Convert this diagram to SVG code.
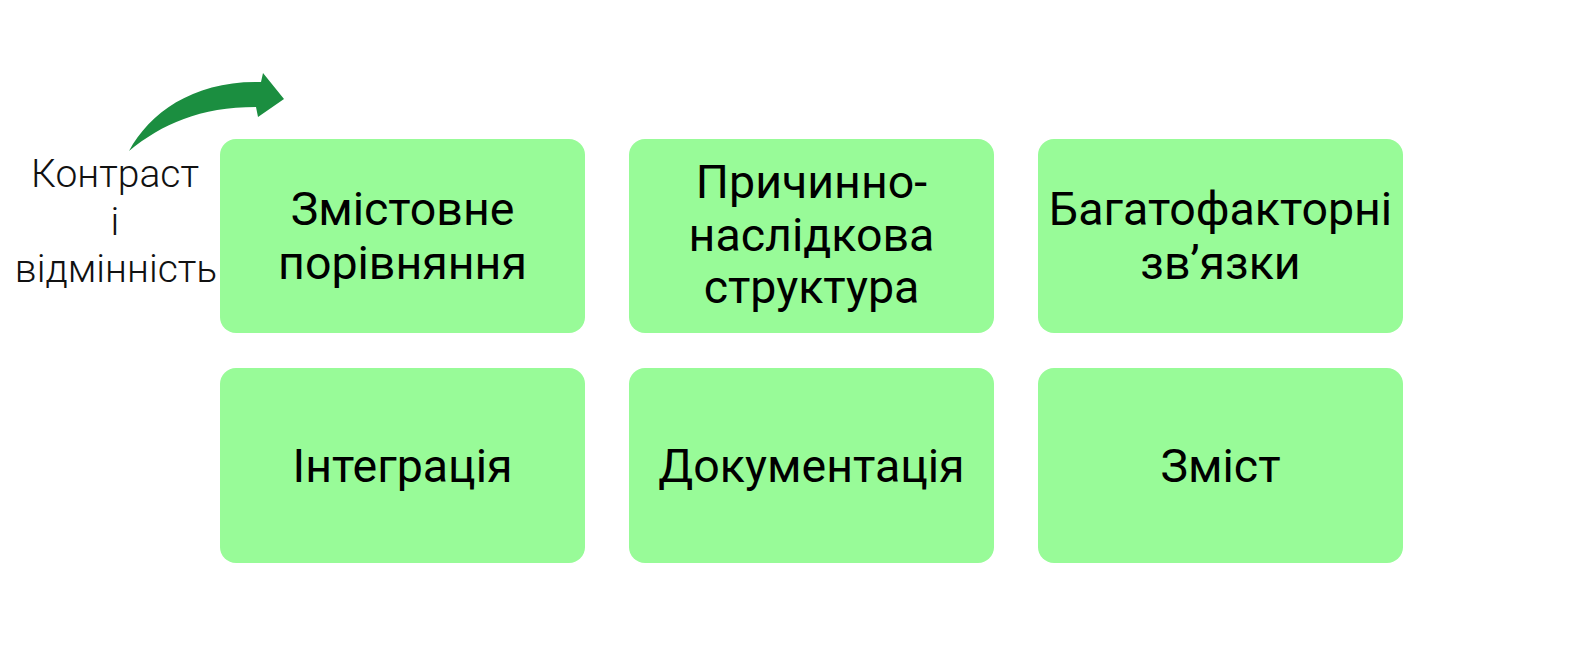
<svg xmlns="http://www.w3.org/2000/svg" width="1588" height="672" viewBox="0 0 1588 672">
<style>
.box{fill:#98fb98;}
.lbl{font-family:Roboto,"Liberation Sans",sans-serif;font-size:46.5px;fill:#000;text-anchor:middle;}
.side{font-family:Roboto,"Liberation Sans",sans-serif;font-weight:300;font-size:39px;fill:#111;text-anchor:middle;}
</style>
<rect width="1588" height="672" fill="#ffffff"/>
<g id="connectors">
<path id="arrow" d="M129,151 C150,112 195,80 261,82 L263,73 L284,99 L258,117 L256,107 C200,107 162,124 129,151 Z" fill="#1b8e40"/>
</g>
<g id="side-label">
<text class="side" x="115" y="187">Контраст</text>
<text class="side" x="115" y="235">і</text>
<text class="side" x="116" y="282">відмінність</text>
</g>
<g id="node1">
<rect class="box" x="220" y="139" width="365" height="194" rx="16"/>
<text class="lbl" x="402.5" y="225">Змістовне</text>
<text class="lbl" x="402.5" y="279">порівняння</text>
</g>
<g id="node2">
<rect class="box" x="629" y="139" width="365" height="194" rx="16"/>
<text class="lbl" x="811.5" y="198">Причинно-</text>
<text class="lbl" x="811.5" y="251">наслідкова</text>
<text class="lbl" x="811.5" y="303">структура</text>
</g>
<g id="node3">
<rect class="box" x="1038" y="139" width="365" height="194" rx="16"/>
<text class="lbl" x="1220.5" y="225">Багатофакторні</text>
<text class="lbl" x="1220.5" y="279">зв’язки</text>
</g>
<g id="node4">
<rect class="box" x="220" y="368" width="365" height="195" rx="16"/>
<text class="lbl" x="402.5" y="482">Інтеграція</text>
</g>
<g id="node5">
<rect class="box" x="629" y="368" width="365" height="195" rx="16"/>
<text class="lbl" x="811.5" y="482">Документація</text>
</g>
<g id="node6">
<rect class="box" x="1038" y="368" width="365" height="195" rx="16"/>
<text class="lbl" x="1220.5" y="482">Зміст</text>
</g>
</svg>
